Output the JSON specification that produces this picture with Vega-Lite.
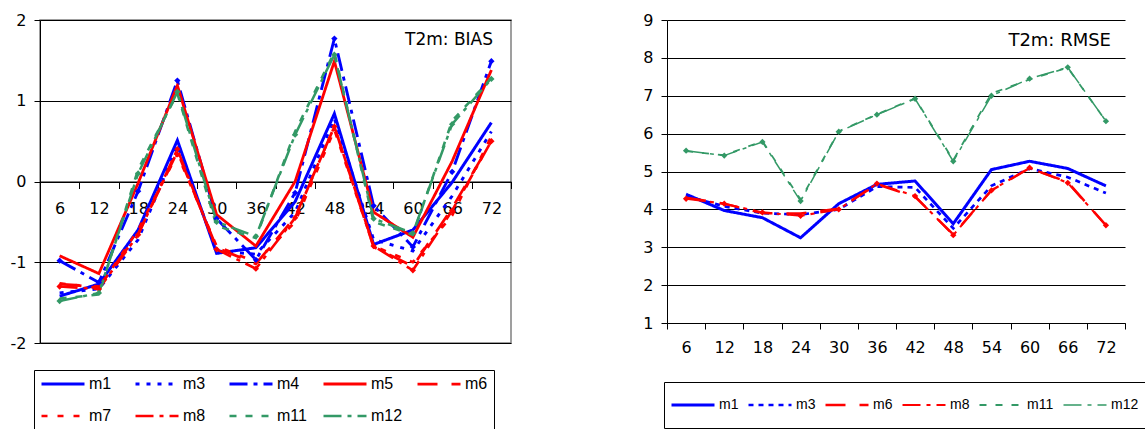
{
  "$schema": "https://vega.github.io/schema/vega-lite/v6.json",
  "background": "white",
  "padding": {"left": 9, "top": 11, "right": 0, "bottom": 0},
  "spacing": 129,
  "config": {
    "font": "DejaVu Sans",
    "axis": {"labelColor": "#000", "domainColor": "#000", "tickColor": "#000", "labelFont": "DejaVu Sans", "title": null},
    "legend": {"labelFont": "Liberation Sans", "labelColor": "#000"}
  },
  "datasets": {
    "bias": [
      {"h":6,"s":"m1","v":-1.42},{"h":12,"s":"m1","v":-1.27},{"h":18,"s":"m1","v":-0.6},{"h":24,"s":"m1","v":0.51},{"h":30,"s":"m1","v":-0.89},{"h":36,"s":"m1","v":-0.82},{"h":42,"s":"m1","v":-0.25},{"h":48,"s":"m1","v":0.84},{"h":54,"s":"m1","v":-0.78},{"h":60,"s":"m1","v":-0.6},{"h":66,"s":"m1","v":-0.01},{"h":72,"s":"m1","v":0.73},
      {"h":6,"s":"m3","v":-1.38},{"h":12,"s":"m3","v":-1.33},{"h":18,"s":"m3","v":-0.72},{"h":24,"s":"m3","v":0.45},{"h":30,"s":"m3","v":-0.86},{"h":36,"s":"m3","v":-0.9},{"h":42,"s":"m3","v":-0.38},{"h":48,"s":"m3","v":0.78},{"h":54,"s":"m3","v":-0.72},{"h":60,"s":"m3","v":-0.86},{"h":66,"s":"m3","v":-0.18},{"h":72,"s":"m3","v":0.62},
      {"h":6,"s":"m4","v":-0.98},{"h":12,"s":"m4","v":-1.25},{"h":18,"s":"m4","v":-0.12},{"h":24,"s":"m4","v":1.25},{"h":30,"s":"m4","v":-0.46},{"h":36,"s":"m4","v":-0.97},{"h":42,"s":"m4","v":-0.14},{"h":48,"s":"m4","v":1.77},{"h":54,"s":"m4","v":-0.3},{"h":60,"s":"m4","v":-0.81},{"h":66,"s":"m4","v":0.12},{"h":72,"s":"m4","v":1.49},
      {"h":6,"s":"m5","v":-0.92},{"h":12,"s":"m5","v":-1.14},{"h":18,"s":"m5","v":-0.02},{"h":24,"s":"m5","v":1.19},{"h":30,"s":"m5","v":-0.41},{"h":36,"s":"m5","v":-0.8},{"h":42,"s":"m5","v":0.0},{"h":48,"s":"m5","v":1.49},{"h":54,"s":"m5","v":-0.38},{"h":60,"s":"m5","v":-0.69},{"h":66,"s":"m5","v":0.25},{"h":72,"s":"m5","v":1.38},
      {"h":6,"s":"m6","v":-1.27},{"h":12,"s":"m6","v":-1.3},{"h":18,"s":"m6","v":-0.65},{"h":24,"s":"m6","v":0.37},{"h":30,"s":"m6","v":-0.82},{"h":36,"s":"m6","v":-1.02},{"h":42,"s":"m6","v":-0.44},{"h":48,"s":"m6","v":0.68},{"h":54,"s":"m6","v":-0.81},{"h":60,"s":"m6","v":-1.05},{"h":66,"s":"m6","v":-0.33},{"h":72,"s":"m6","v":0.5},
      {"h":6,"s":"m7","v":-1.26},{"h":12,"s":"m7","v":-1.32},{"h":18,"s":"m7","v":-0.6},{"h":24,"s":"m7","v":0.34},{"h":30,"s":"m7","v":-0.8},{"h":36,"s":"m7","v":-1.0},{"h":42,"s":"m7","v":-0.5},{"h":48,"s":"m7","v":0.64},{"h":54,"s":"m7","v":-0.8},{"h":60,"s":"m7","v":-1.0},{"h":66,"s":"m7","v":-0.42},{"h":72,"s":"m7","v":0.56},
      {"h":6,"s":"m8","v":-1.3},{"h":12,"s":"m8","v":-1.33},{"h":18,"s":"m8","v":-0.66},{"h":24,"s":"m8","v":0.4},{"h":30,"s":"m8","v":-0.84},{"h":36,"s":"m8","v":-1.08},{"h":42,"s":"m8","v":-0.45},{"h":48,"s":"m8","v":0.68},{"h":54,"s":"m8","v":-0.8},{"h":60,"s":"m8","v":-1.1},{"h":66,"s":"m8","v":-0.36},{"h":72,"s":"m8","v":0.5},
      {"h":6,"s":"m11","v":-1.45},{"h":12,"s":"m11","v":-1.4},{"h":18,"s":"m11","v":0.15},{"h":24,"s":"m11","v":1.09},{"h":30,"s":"m11","v":-0.55},{"h":36,"s":"m11","v":-0.7},{"h":42,"s":"m11","v":0.62},{"h":48,"s":"m11","v":1.6},{"h":54,"s":"m11","v":-0.5},{"h":60,"s":"m11","v":-0.66},{"h":66,"s":"m11","v":0.75},{"h":72,"s":"m11","v":1.28},
      {"h":6,"s":"m12","v":-1.48},{"h":12,"s":"m12","v":-1.38},{"h":18,"s":"m12","v":0.1},{"h":24,"s":"m12","v":1.11},{"h":30,"s":"m12","v":-0.5},{"h":36,"s":"m12","v":-0.68},{"h":42,"s":"m12","v":0.58},{"h":48,"s":"m12","v":1.57},{"h":54,"s":"m12","v":-0.46},{"h":60,"s":"m12","v":-0.64},{"h":66,"s":"m12","v":0.71},{"h":72,"s":"m12","v":1.27}
    ],
    "rmse": [
      {"h":6,"s":"m1","v":4.4},{"h":12,"s":"m1","v":3.97},{"h":18,"s":"m1","v":3.78},{"h":24,"s":"m1","v":3.25},{"h":30,"s":"m1","v":4.15},{"h":36,"s":"m1","v":4.66},{"h":42,"s":"m1","v":4.75},{"h":48,"s":"m1","v":3.62},{"h":54,"s":"m1","v":5.05},{"h":60,"s":"m1","v":5.27},{"h":66,"s":"m1","v":5.08},{"h":72,"s":"m1","v":4.62},
      {"h":6,"s":"m3","v":4.35},{"h":12,"s":"m3","v":4.08},{"h":18,"s":"m3","v":3.9},{"h":24,"s":"m3","v":3.86},{"h":30,"s":"m3","v":4.0},{"h":36,"s":"m3","v":4.6},{"h":42,"s":"m3","v":4.58},{"h":48,"s":"m3","v":3.5},{"h":54,"s":"m3","v":4.62},{"h":60,"s":"m3","v":5.08},{"h":66,"s":"m3","v":4.85},{"h":72,"s":"m3","v":4.43},
      {"h":6,"s":"m6","v":4.31},{"h":12,"s":"m6","v":4.15},{"h":18,"s":"m6","v":3.9},{"h":24,"s":"m6","v":3.89},{"h":30,"s":"m6","v":4.02},{"h":36,"s":"m6","v":4.66},{"h":42,"s":"m6","v":4.33},{"h":48,"s":"m6","v":3.34},{"h":54,"s":"m6","v":4.5},{"h":60,"s":"m6","v":5.09},{"h":66,"s":"m6","v":4.72},{"h":72,"s":"m6","v":3.58},
      {"h":6,"s":"m8","v":4.28},{"h":12,"s":"m8","v":4.15},{"h":18,"s":"m8","v":3.92},{"h":24,"s":"m8","v":3.83},{"h":30,"s":"m8","v":4.0},{"h":36,"s":"m8","v":4.68},{"h":42,"s":"m8","v":4.35},{"h":48,"s":"m8","v":3.32},{"h":54,"s":"m8","v":4.5},{"h":60,"s":"m8","v":5.1},{"h":66,"s":"m8","v":4.7},{"h":72,"s":"m8","v":3.58},
      {"h":6,"s":"m11","v":5.54},{"h":12,"s":"m11","v":5.43},{"h":18,"s":"m11","v":5.8},{"h":24,"s":"m11","v":4.26},{"h":30,"s":"m11","v":6.06},{"h":36,"s":"m11","v":6.51},{"h":42,"s":"m11","v":6.93},{"h":48,"s":"m11","v":5.3},{"h":54,"s":"m11","v":7.06},{"h":60,"s":"m11","v":7.43},{"h":66,"s":"m11","v":7.74},{"h":72,"s":"m11","v":6.33},
      {"h":6,"s":"m12","v":5.55},{"h":12,"s":"m12","v":5.42},{"h":18,"s":"m12","v":5.78},{"h":24,"s":"m12","v":4.22},{"h":30,"s":"m12","v":6.05},{"h":36,"s":"m12","v":6.5},{"h":42,"s":"m12","v":6.92},{"h":48,"s":"m12","v":5.27},{"h":54,"s":"m12","v":7.0},{"h":60,"s":"m12","v":7.45},{"h":66,"s":"m12","v":7.75},{"h":72,"s":"m12","v":6.33}
    ]
  },
  "hconcat": [
    {
      "width": 471,
      "height": 323,
      "data": {"name": "bias"},
      "view": {"stroke": "#808080", "strokeWidth": 1.5},
      "title": {"text": "T2m: BIAS", "anchor": "end", "frame": "group", "orient": "top", "offset": -37, "dx": -18, "fontSize": 17, "fontWeight": "normal", "font": "DejaVu Sans", "color": "#000"},
      "encoding": {
        "x": {"field": "h", "type": "ordinal", "scale": {"type": "band", "paddingInner": 0, "paddingOuter": 0},
              "axis": {"offset": -161.5, "tickBand": "extent", "labelAngle": 0, "tickSize": 7, "labelPadding": 12, "labelFontSize": 16, "domainWidth": 1}},
        "y": {"field": "v", "type": "quantitative", "scale": {"domain": [-2, 2], "nice": false},
              "axis": {"values": [-2, -1, 0, 1, 2], "labelExpr": "replace(datum.label, '−', '-')", "grid": true, "gridColor": "#000", "gridOpacity": 1, "tickSize": 6, "labelPadding": 8, "labelFontSize": 16}}
      },
      "layer": [
        {
          "mark": {"type": "line", "strokeCap": "butt"},
          "encoding": {
            "color": {"field": "s", "type": "nominal",
              "scale": {"domain": ["m1","m3","m4","m5","m6","m7","m8","m11","m12"], "range": ["#0000ff","#0000ff","#0000ff","#ff0000","#ff0000","#ff0000","#ff0000","#339966","#339966"]},
              "legend": {"title": null, "orient": "none", "legendX": -6, "legendY": 350, "columns": 5, "direction": "horizontal", "symbolType": "stroke", "symbolSize": 1849, "clipHeight": 16, "rowPadding": 16, "columnPadding": 13, "padding": 6, "strokeColor": "#000", "labelFontSize": 16, "labelOffset": 3, "gridAlign": "all", "labelLimit": 100}},
            "strokeDash": {"field": "s", "type": "nominal",
              "scale": {"domain": ["m1","m3","m4","m5","m6","m7","m8","m11","m12"], "range": [[1,0],[4,7],[18,6,4,6],[1,0],[20,14],[6,10],[18,6,4,6],[7,9],[18,6,4,6]]}},
            "strokeWidth": {"field": "s", "type": "nominal",
              "scale": {"domain": ["m1","m3","m4","m5","m6","m7","m8","m11","m12"], "range": [3,2.5,3,3,3,3,3,3,3]}}
          }
        },
        {
          "transform": [{"filter": {"field": "s", "oneOf": ["m4","m8","m12"]}}],
          "mark": {"type": "point", "shape": "diamond", "filled": true, "size": 40, "opacity": 1},
          "encoding": {
            "fill": {"field": "s", "type": "nominal", "scale": {"domain": ["m4","m8","m12"], "range": ["#0000ff","#ff0000","#339966"]}, "legend": null}
          }
        }
      ]
    },
    {
      "width": 458,
      "height": 303,
      "data": {"name": "rmse"},
      "view": {"stroke": null},
      "title": {"text": "T2m: RMSE", "anchor": "end", "frame": "group", "orient": "top", "offset": -38, "dx": -14, "fontSize": 18, "fontWeight": "normal", "font": "DejaVu Sans", "color": "#000"},
      "encoding": {
        "x": {"field": "h", "type": "ordinal", "scale": {"type": "band", "paddingInner": 0, "paddingOuter": 0},
              "axis": {"tickBand": "extent", "labelAngle": 0, "tickSize": 6, "labelPadding": 10, "labelFontSize": 16}},
        "y": {"field": "v", "type": "quantitative", "scale": {"domain": [1, 9], "nice": false},
              "axis": {"values": [1,2,3,4,5,6,7,8,9], "grid": true, "gridColor": "#000", "gridOpacity": 1, "tickSize": 6, "labelPadding": 8, "labelFontSize": 16}}
      },
      "layer": [
        {
          "mark": {"type": "line", "strokeCap": "butt"},
          "encoding": {
            "color": {"field": "s", "type": "nominal",
              "scale": {"domain": ["m1","m3","m6","m8","m11","m12"], "range": ["#0000ff","#0000ff","#ff0000","#ff0000","#339966","#339966"]},
              "legend": {"title": null, "orient": "none", "legendX": -3, "legendY": 362, "columns": 6, "direction": "horizontal", "symbolType": "stroke", "symbolSize": 1849, "clipHeight": 34, "columnPadding": 8, "padding": 6, "strokeColor": "#000", "labelFontSize": 14, "labelOffset": 3, "gridAlign": "each", "labelLimit": 100}},
            "strokeDash": {"field": "s", "type": "nominal",
              "scale": {"domain": ["m1","m3","m6","m8","m11","m12"], "range": [[1,0],[5,5],[20,14],[18,6,4,6],[7,9],[18,6,4,6]]}},
            "strokeWidth": {"field": "s", "type": "nominal",
              "scale": {"domain": ["m1","m3","m6","m8","m11","m12"], "range": [3,1.5,3,3,3,3]}}
          }
        },
        {
          "transform": [{"filter": {"field": "s", "oneOf": ["m8","m12"]}}],
          "mark": {"type": "point", "shape": "diamond", "filled": true, "size": 40, "opacity": 1},
          "encoding": {
            "fill": {"field": "s", "type": "nominal", "scale": {"domain": ["m8","m12"], "range": ["#ff0000","#339966"]}, "legend": null}
          }
        }
      ]
    }
  ],
  "resolve": {
    "scale": {"x": "independent", "y": "independent", "color": "independent", "strokeDash": "independent", "strokeWidth": "independent", "fill": "independent"},
    "legend": {"color": "independent", "strokeDash": "independent", "strokeWidth": "independent"}
  }
}
